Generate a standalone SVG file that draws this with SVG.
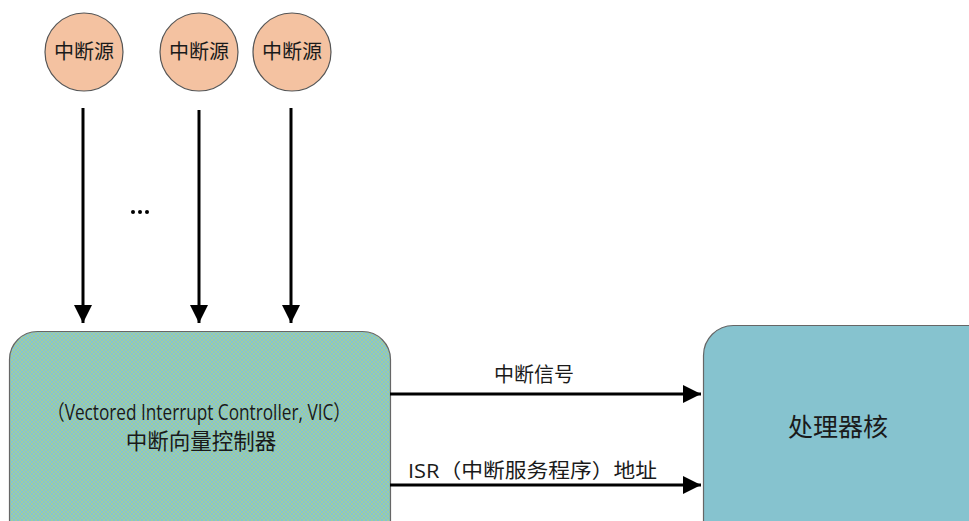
<svg xmlns="http://www.w3.org/2000/svg" width="969" height="521" viewBox="0 0 969 521">
  <style>
    .cjk { font-family: "Noto Sans CJK SC", "Liberation Sans", sans-serif; fill: #1a1a1a; }
    .lat { font-family: "Open Sans", "Liberation Sans", "Noto Sans CJK SC", sans-serif; fill: #1a1a1a; }
    .src { fill: #f4c2a1; stroke: #555555; stroke-width: 1.2; }
    .wire { stroke: #000000; stroke-width: 3; fill: none; }
  </style>
  <defs>
    <!-- blue fill with a fine yellow-green diagonal cross-hatch -->
    <pattern id="hatch" width="4" height="4" patternUnits="userSpaceOnUse">
      <rect width="4" height="4" fill="#84c2d2"/>
      <path d="M0,0 L4,4 M4,0 L0,4" stroke="#b6d77a" stroke-width="0.6"/>
    </pattern>
    <marker id="arrow" viewBox="0 0 18 18" refX="18" refY="9" markerWidth="18" markerHeight="18" markerUnits="userSpaceOnUse" orient="auto">
      <path d="M0,0 L18,9 L0,18 Z" fill="#000000"/>
    </marker>
  </defs>
  <rect width="969" height="521" fill="#ffffff"/>

  <!-- interrupt sources -->
  <g id="src1">
    <circle class="src" cx="84" cy="52" r="39"/>
    <text class="cjk" x="84" y="59" font-size="20" text-anchor="middle">中断源</text>
  </g>
  <g id="src2">
    <circle class="src" cx="199" cy="52" r="39"/>
    <text class="cjk" x="199" y="59" font-size="20" text-anchor="middle">中断源</text>
  </g>
  <g id="src3">
    <circle class="src" cx="292" cy="52" r="39"/>
    <text class="cjk" x="292" y="59" font-size="20" text-anchor="middle">中断源</text>
  </g>
  <g id="ellipsis">
    <circle cx="133" cy="212" r="2" fill="#000"/>
    <circle cx="140" cy="212" r="2" fill="#000"/>
    <circle cx="147" cy="212" r="2" fill="#000"/>
  </g>

  <!-- vectored interrupt controller -->
  <g id="vic">
    <rect x="9.5" y="331.5" width="381" height="220" rx="28" ry="28" fill="url(#hatch)" stroke="#666666" stroke-width="1.2"/>
    <text class="lat" x="199" y="420" font-size="21" text-anchor="middle" textLength="303" lengthAdjust="spacingAndGlyphs">（Vectored Interrupt Controller, VIC）</text>
    <text class="cjk" x="201" y="449" font-size="21.5" text-anchor="middle">中断向量控制器</text>
  </g>

  <!-- processor core -->
  <g id="core">
    <rect x="703.5" y="325.5" width="300" height="230" rx="30" ry="30" fill="#86c3cf" stroke="#666666" stroke-width="1.2"/>
    <text class="cjk" x="838" y="436" font-size="25" text-anchor="middle">处理器核</text>
  </g>

  <!-- connectors -->
  <g id="connectors">
    <line class="wire" x1="83" y1="108" x2="83" y2="323" marker-end="url(#arrow)"/>
    <line class="wire" x1="199" y1="110" x2="199" y2="323" marker-end="url(#arrow)"/>
    <line class="wire" x1="291" y1="108" x2="291" y2="323" marker-end="url(#arrow)"/>
    <line class="wire" x1="390" y1="394" x2="701" y2="394" marker-end="url(#arrow)"/>
    <line class="wire" x1="390" y1="485" x2="701" y2="485" marker-end="url(#arrow)"/>
    <text class="cjk" x="534" y="382" font-size="20" text-anchor="middle">中断信号</text>
    <text class="lat" x="408" y="478" font-size="20" textLength="249" lengthAdjust="spacingAndGlyphs">ISR（中断服务程序）地址</text>
  </g>
</svg>
